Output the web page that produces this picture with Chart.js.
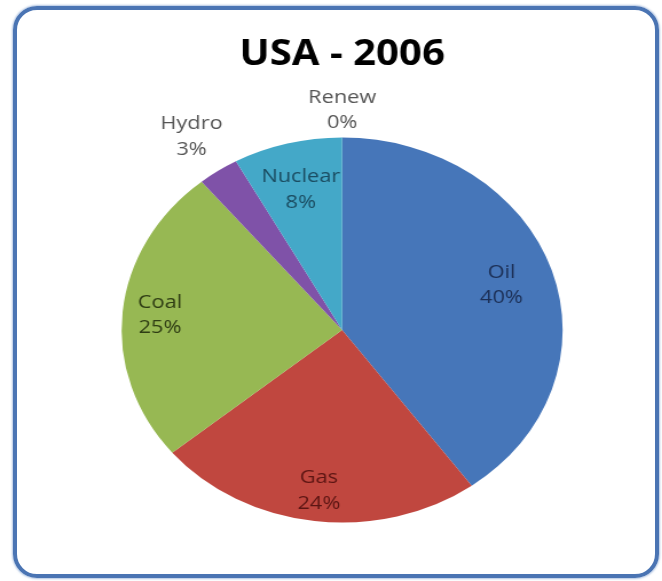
<!DOCTYPE html>
<html>
<head>
<meta charset="utf-8">
<script src="https://cdn.jsdelivr.net/npm/chart.js@4/dist/chart.umd.min.js"></script>
<style>
  html, body { margin: 0; padding: 0; background: #ffffff; }
  body { width: 662px; height: 581px; position: relative; overflow: hidden; }
  #frame {
    position: absolute; left: 13px; top: 6px; width: 646px; height: 572px;
    box-sizing: border-box; border: 4px solid #4a74b3; border-radius: 24px;
    box-shadow: 0 0 2px 1px rgba(120,155,205,0.6);
  }
  #c { position: absolute; left: 0; top: 0; transform: scaleX(1.1454); transform-origin: 0 0; }
</style>
</head>
<body>
<div id="frame"></div>
<canvas id="c" width="578" height="581"></canvas>
<script>
// ---- data ----
const categories = ["Oil", "Gas", "Coal", "Hydro", "Nuclear", "Renew"];
const shares = [40, 24, 25, 3, 8, 0];
const titleText = "USA - 2006";

// ---- styles ----
const sliceColors = ["#4676b9", "#c0473f", "#97b853", "#7f52a8", "#44a8c8", "#f79646"];
const labelColors = ["#1c2f55", "#5c1513", "#2f3d14", "#555555", "#1b4d62", "#555555"];
const labelRadius = [0.76, 0.84, 0.83, 1.215, 0.755, 1.143];

const labelPlugin = {
  id: "sliceLabels",
  afterDatasetsDraw(chart) {
    const ctx = chart.ctx;
    const meta = chart.getDatasetMeta(0);
    const data = chart.data.datasets[0].data;
    const total = data.reduce((a, b) => a + b, 0);
    ctx.save();
    ctx.font = "19px 'Open Sans'";
    ctx.textAlign = "center";
    ctx.textBaseline = "middle";
    meta.data.forEach((arc, i) => {
      const p = arc.getProps(["x", "y", "startAngle", "endAngle", "outerRadius"], true);
      const mid = (p.startAngle + p.endAngle) / 2;
      const r = p.outerRadius * labelRadius[i];
      const cx = p.x + Math.cos(mid) * r;
      const cy = p.y + Math.sin(mid) * r;
      const pct = Math.round(data[i] / total * 100) + "%";
      ctx.fillStyle = labelColors[i];
      ctx.fillText(chart.data.labels[i], cx, cy - 12.5);
      ctx.fillText(pct, cx, cy + 13);
    });
    ctx.restore();
  }
};

new Chart(document.getElementById("c"), {
  type: "pie",
  data: {
    labels: categories,
    datasets: [{
      data: shares,
      backgroundColor: sliceColors,
      borderWidth: 0,
      offset: 0,
      hoverOffset: 0
    }]
  },
  options: {
    responsive: false,
    animation: false,
    events: [],
    layout: { padding: { top: 0, bottom: 58.5, left: 106.2, right: 86.8 } },
    plugins: {
      legend: { display: false },
      tooltip: { enabled: false },
      title: {
        display: true,
        text: titleText,
        color: "#000000",
        font: { family: "'Open Sans'", size: 35, weight: "bold", lineHeight: 1.2 },
        padding: { top: 34, bottom: 61.5 }
      }
    }
  },
  plugins: [labelPlugin]
});
</script>
</body>
</html>
